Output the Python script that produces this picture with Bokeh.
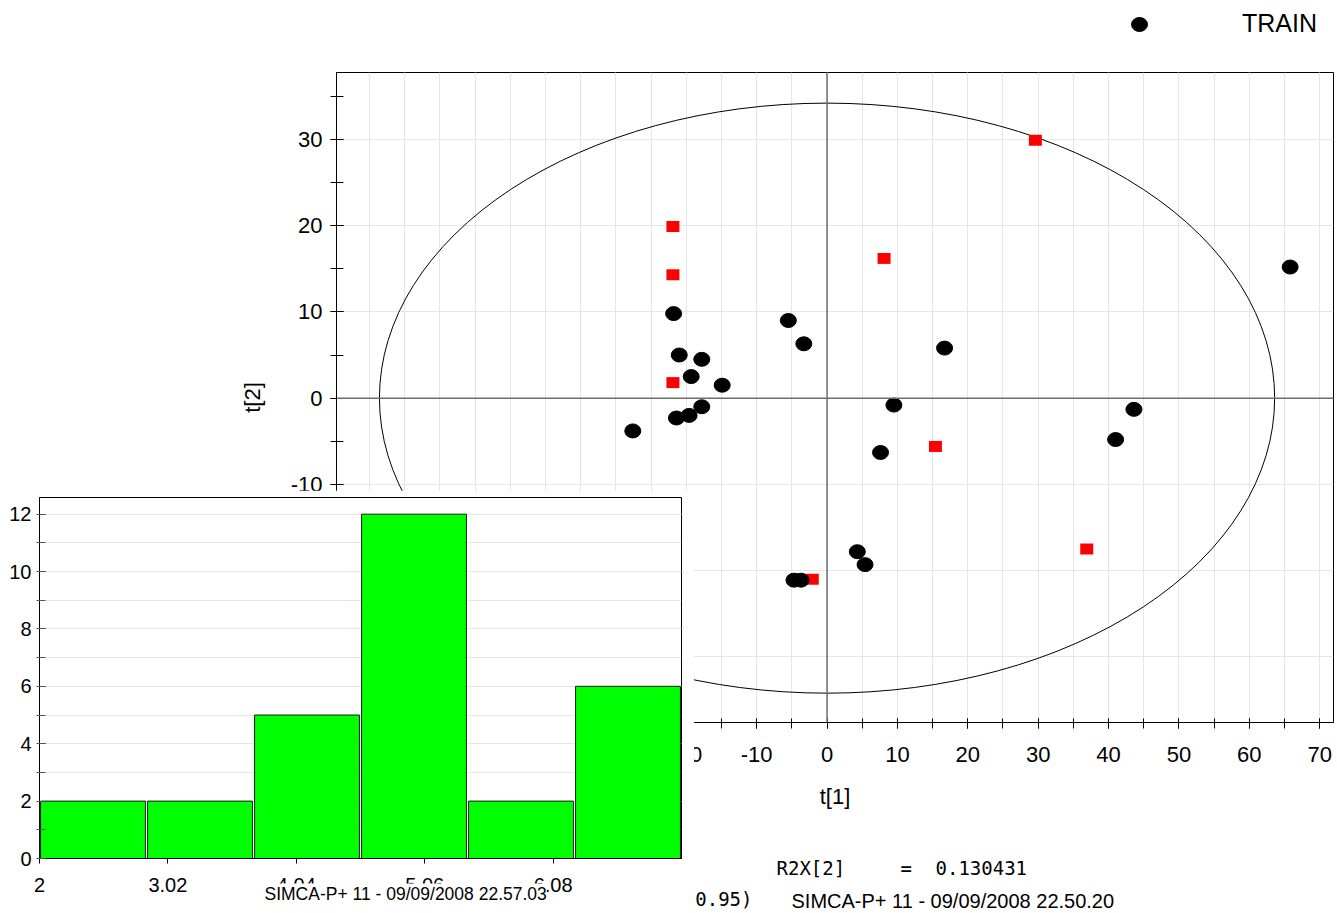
from bokeh.plotting import figure
from bokeh.models import (Range1d, SingleIntervalTicker, FixedTicker, Span, Label,
                          Legend, LegendItem, PrintfTickFormatter)
from bokeh.embed import file_html
from bokeh.resources import INLINE

# ---------------- data ----------------
train_t1 = [-21.8, -21.0, -17.8, -19.3, -14.9, -27.6, -21.4, -19.6, -17.8,
            -5.5, -3.3, 16.7, 9.5, 7.6, 43.6, 41.0, 65.8, 4.3, 5.4, -4.7, -3.7]
train_t2 = [9.8, 5.0, 4.5, 2.5, 1.5, -3.8, -2.3, -2.0, -1.0,
            9.0, 6.3, 5.8, -0.8, -6.3, -1.3, -4.8, 15.2, -17.8, -19.3, -21.1, -21.1]
test_t1 = [-21.9, -21.9, -21.9, 8.1, 29.6, 15.4, 36.9, -2.1]
test_t2 = [19.9, 14.3, 1.8, 16.2, 29.9, -5.6, -17.5, -21.0]

ellipse_semi_t1 = 63.6
ellipse_semi_t2 = 34.2

hist_start = 2.0
hist_bin_width = 0.85
hist_counts = [2, 2, 5, 12, 2, 6]
hist_tick_values = [2, 3.02, 4.04, 5.06, 6.08]

legend_label = "TRAIN"
r2x_label = "R2X[2]"
r2x_value = "0.130431"
ellipse_text = "Ellipse: Hotelling T2 (0.95)"
stamp_main = "SIMCA-P+ 11 - 09/09/2008 22.50.20"
stamp_hist = "SIMCA-P+ 11 - 09/09/2008 22.57.03"

FONT = "Liberation Sans"
MONO = "DejaVu Sans Mono"
PAGE_W, PAGE_H = 1336, 913


def place(fig, left, top):
    fig.styles = {"position": "absolute", "left": f"{left}px", "top": f"{top}px"}


def overlay(left, top, width, height, fill=None, xr=(0, 1), yr=(0, 1)):
    f = figure(width=width, height=height, output_backend="svg", toolbar_location=None,
               x_axis_location=None, y_axis_location=None,
               x_range=Range1d(*xr), y_range=Range1d(*yr),
               min_border_left=0, min_border_right=0, min_border_top=0,
               min_border_bottom=0)
    for g in f.grid:
        g.visible = False
    f.background_fill_color = fill
    f.border_fill_color = fill
    f.outline_line_color = None
    place(f, left, top)
    return f


def text(fig, x, y, s, font, size, align="left", bg=None):
    # x, y: page pixels; fig frame spans its full canvas, whose bottom is the page bottom
    fig.add_layout(Label(x=x, y=PAGE_H - y, x_units="screen", y_units="screen", text=s,
                         text_font=font, text_font_size=size, text_baseline="middle",
                         text_align=align, text_color="black",
                         background_fill_color=bg))


def train_points(fig):
    return fig.ellipse(x=train_t1, y=train_t2, width=16, height=14, width_units="screen",
                       height_units="screen", fill_color="black", line_color="black")


# ---------------- score plot ----------------
p = figure(width=PAGE_W, height=PAGE_H, output_backend="svg", toolbar_location=None,
           x_range=Range1d(-69.7, 71.96), y_range=Range1d(-37.6, 37.75),
           min_border_left=336, min_border_right=3, min_border_top=72,
           min_border_bottom=191)
place(p, 0, 0)
p.background_fill_color = "white"
p.border_fill_color = "white"
p.outline_line_color = "black"
p.outline_line_width = 1

p.xaxis.ticker = SingleIntervalTicker(interval=10, num_minor_ticks=2)
p.yaxis.ticker = SingleIntervalTicker(interval=10, num_minor_ticks=2)
p.xgrid.grid_line_color = "#e6e6e6"
p.xgrid.minor_grid_line_color = "#e6e6e6"
p.ygrid.grid_line_color = "#e6e6e6"

for ax in (p.xaxis[0], p.yaxis[0]):
    ax.formatter = PrintfTickFormatter(format="%d")
    ax.axis_line_color = "black"
    ax.major_tick_line_color = "black"
    ax.minor_tick_line_color = "black"
    ax.major_label_text_font = FONT
    ax.major_label_text_font_size = "22px"
    ax.major_label_text_color = "black"
    ax.axis_label_text_font = FONT
    ax.axis_label_text_font_size = "22px"
    ax.axis_label_text_font_style = "normal"
    ax.axis_label_text_color = "black"

p.xaxis.axis_label = "t[1]"
p.yaxis.axis_label = "t[2]"
p.xaxis.major_tick_in = 4
p.xaxis.major_tick_out = 6
p.xaxis.minor_tick_in = 4
p.xaxis.minor_tick_out = 6
p.xaxis.major_label_standoff = 18
p.xaxis.axis_label_standoff = 19
p.yaxis.major_tick_in = 7
p.yaxis.major_tick_out = 6
p.yaxis.minor_tick_in = 7
p.yaxis.minor_tick_out = 6
p.yaxis.major_label_standoff = 8
p.yaxis.axis_label_standoff = 23

p.add_layout(Span(location=0, dimension="width", line_color="#6e6e6e", line_width=1.5))
p.add_layout(Span(location=0, dimension="height", line_color="#6e6e6e", line_width=1.5))

p.ellipse(x=[0], y=[0], width=[2 * ellipse_semi_t1], height=[2 * ellipse_semi_t2],
          fill_color=None, line_color="black", line_width=1)

p.rect(x=test_t1, y=test_t2, width=13, height=11, width_units="screen",
       height_units="screen", fill_color="red", line_color=None)
train_points(p)

# faint band along the top edge
band = overlay(38, 0, PAGE_W - 38, 6, fill="#fffde9")

# legend: its own small canvas so that it is not clipped by the score-plot frame;
# the TRAIN renderer there lies outside that canvas's ranges, only its key shows
leg = overlay(1100, 0, 236, 50, xr=(1000, 1001), yr=(1000, 1001))
r_leg = train_points(leg)
leg.add_layout(Legend(items=[LegendItem(label=legend_label, renderers=[r_leg])],
                      location=(27, 12), orientation="horizontal", padding=0, margin=0,
                      border_line_color=None, background_fill_alpha=0,
                      glyph_width=24, glyph_height=20, label_standoff=91,
                      label_text_font=FONT, label_text_font_size="25px",
                      label_text_color="black", label_height=20))

# texts below the score plot
ov_main = overlay(0, 0, PAGE_W, PAGE_H)
text(ov_main, 776, 867, r2x_label, MONO, "19px")
text(ov_main, 900, 867, "=", MONO, "19px")
text(ov_main, 935, 867, r2x_value, MONO, "19px")
text(ov_main, 752, 898, ellipse_text, MONO, "19px", align="right")
text(ov_main, 791, 900, stamp_main, FONT, "20px")

# ---------------- histogram inset ----------------
edges = [hist_start + i * hist_bin_width for i in range(len(hist_counts) + 1)]
centers = [(edges[i] + edges[i + 1]) / 2 for i in range(len(hist_counts))]

h = figure(width=694, height=423, output_backend="svg", toolbar_location=None,
           x_range=Range1d(edges[0], edges[-1]), y_range=Range1d(0, 12.58),
           min_border_left=39, min_border_right=13, min_border_top=7,
           min_border_bottom=55)
place(h, 0, 490)
h.background_fill_color = "white"
h.border_fill_color = "white"
h.outline_line_color = "black"

h.xaxis.ticker = FixedTicker(ticks=hist_tick_values)
h.yaxis.ticker = SingleIntervalTicker(interval=2, num_minor_ticks=2)
h.xgrid.grid_line_color = None
h.ygrid.grid_line_color = "#e6e6e6"
h.ygrid.minor_grid_line_color = "#e6e6e6"

for ax in (h.xaxis[0], h.yaxis[0]):
    ax.axis_line_color = "black"
    ax.major_tick_line_color = "black"
    ax.minor_tick_line_color = "#555555"
    ax.major_label_text_font = FONT
    ax.major_label_text_font_size = "20px"
    ax.major_label_text_color = "black"

h.xaxis.major_tick_in = 0
h.xaxis.major_tick_out = 5
h.xaxis.major_label_standoff = 14
h.yaxis.major_tick_in = 6
h.yaxis.major_tick_out = 2
h.yaxis.minor_tick_in = 6
h.yaxis.minor_tick_out = 3
h.yaxis.major_label_standoff = 5

h.vbar(x=centers, width=hist_bin_width * 0.98, top=hist_counts, bottom=0,
       fill_color="#00ff00", line_color="#1a1a1a", line_width=1)

ov_hist = overlay(0, 490, 694, PAGE_H - 490)
text(ov_hist, 264, 893, stamp_hist, FONT, "17.5px", bg="white")

open("out.html", "w").write(file_html([p, band, leg, ov_main, h, ov_hist], INLINE))
